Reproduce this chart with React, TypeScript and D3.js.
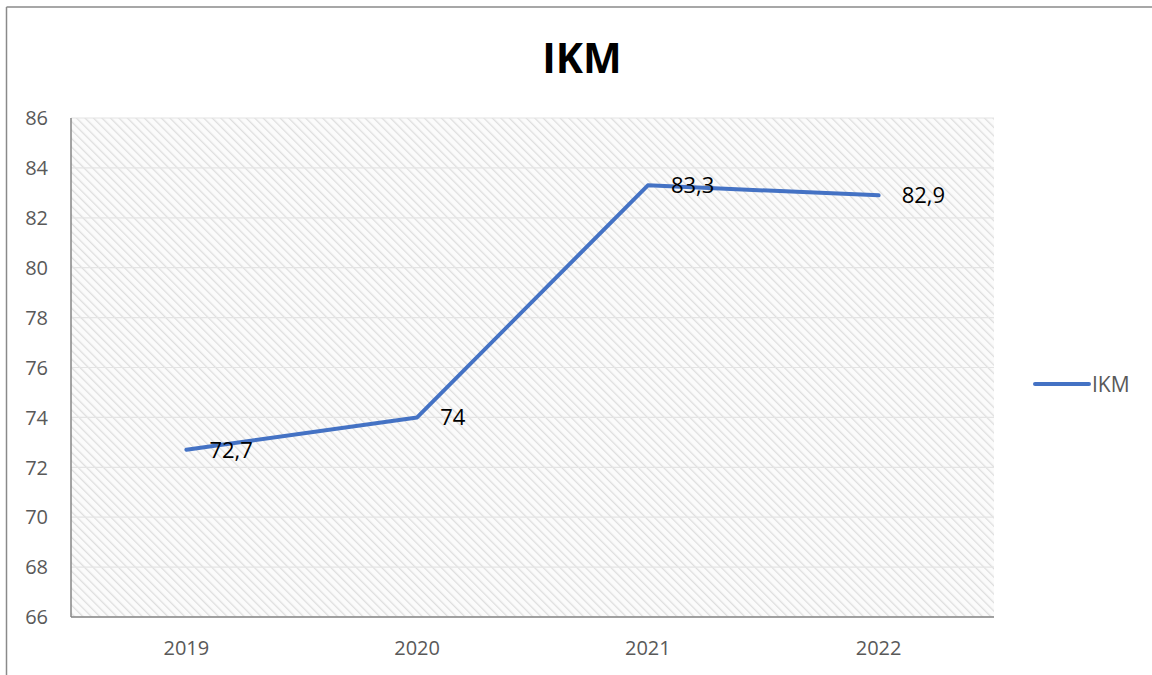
import React from "react";
import * as d3 from "d3";

const categories = ["2019", "2020", "2021", "2022"];
const seriesName = "IKM";
const values = [72.7, 74, 83.3, 82.9];
const valueLabels = ["72,7", "74", "83,3", "82,9"];
const yTicks = [66, 68, 70, 72, 74, 76, 78, 80, 82, 84, 86];

const W = 1152;
const H = 675;
const plot = { left: 71, top: 118, right: 994, bottom: 617 };
const FONT = "'Open Sans', 'Noto Sans', sans-serif";
const LINE_COLOR = "#4472C4";

export default function App() {
  const x = d3
    .scaleBand<string>()
    .domain(categories)
    .range([plot.left, plot.right]);
  const y = d3.scaleLinear().domain([66, 86]).range([plot.bottom, plot.top]);

  const cx = (c: string) => (x(c) ?? 0) + x.bandwidth() / 2;

  const line = d3
    .line<number>()
    .x((_, i) => cx(categories[i]))
    .y((d) => y(d));

  return (
    <svg
      width={W}
      height={H}
      viewBox={`0 0 ${W} ${H}`}
      style={{ position: "absolute", left: 0, top: 0, display: "block", background: "#fff" }}
    >
      <defs>
        <pattern
          id="hatch"
          patternUnits="userSpaceOnUse"
          width={6}
          height={6}
          patternTransform="rotate(-45)"
        >
          <rect width={6} height={6} fill="#fbfbfb" />
          <line x1={0} y1={0} x2={0} y2={6} stroke="#dedede" strokeWidth={2.6} />
        </pattern>
      </defs>

      {/* chart area frame */}
      <line x1={6.5} y1={7} x2={W} y2={7} stroke="#8a8a8a" strokeWidth={1.5} />
      <line x1={6.5} y1={7} x2={6.5} y2={H} stroke="#8a8a8a" strokeWidth={1.5} />

      {/* title */}
      <text
        x={582}
        y={73}
        textAnchor="middle"
        fontFamily={FONT}
        fontWeight={700}
        fontSize={41}
        fill="#000"
      >
        IKM
      </text>

      {/* plot area with hatched fill */}
      <rect
        x={plot.left}
        y={plot.top}
        width={plot.right - plot.left}
        height={plot.bottom - plot.top}
        fill="url(#hatch)"
      />

      {/* horizontal gridlines */}
      {yTicks.map((t) => (
        <line
          key={`g${t}`}
          x1={plot.left}
          x2={plot.right}
          y1={y(t)}
          y2={y(t)}
          stroke="#e4e4e4"
          strokeWidth={1.2}
        />
      ))}

      {/* axes */}
      <line x1={plot.left} x2={plot.left} y1={plot.top} y2={plot.bottom} stroke="#868686" strokeWidth={1.5} />
      <line x1={plot.left} x2={plot.right} y1={plot.bottom} y2={plot.bottom} stroke="#868686" strokeWidth={1.5} />

      {/* y tick labels */}
      {yTicks.map((t) => (
        <text
          key={`y${t}`}
          x={48}
          y={y(t)}
          dy="0.36em"
          textAnchor="end"
          fontFamily={FONT}
          fontSize={20}
          fill="#595959"
        >
          {t}
        </text>
      ))}

      {/* x tick labels */}
      {categories.map((c) => (
        <text
          key={`x${c}`}
          x={cx(c)}
          y={655}
          textAnchor="middle"
          fontFamily={FONT}
          fontSize={20}
          fill="#595959"
        >
          {c}
        </text>
      ))}

      {/* series line */}
      <path
        d={line(values) ?? ""}
        fill="none"
        stroke={LINE_COLOR}
        strokeWidth={4}
        strokeLinejoin="round"
        strokeLinecap="round"
      />

      {/* data labels */}
      {values.map((v, i) => (
        <text
          key={`l${i}`}
          x={cx(categories[i]) + 23}
          y={y(v)}
          dy="0.36em"
          fontFamily={FONT}
          fontSize={22}
          fill="#000"
        >
          {valueLabels[i]}
        </text>
      ))}

      {/* legend */}
      <line x1={1035} x2={1089} y1={384} y2={384} stroke={LINE_COLOR} strokeWidth={4} strokeLinecap="round" />
      <text x={1092} y={384} dy="0.36em" fontFamily={FONT} fontSize={21} fill="#595959">
        {seriesName}
      </text>
    </svg>
  );
}
